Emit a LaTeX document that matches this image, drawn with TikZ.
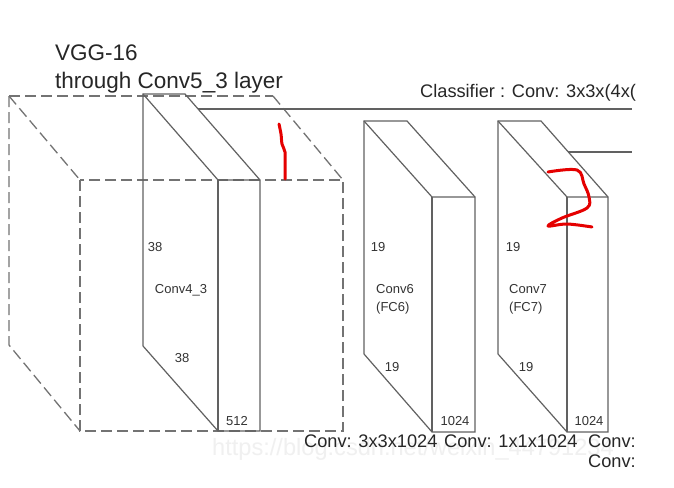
\documentclass[tikz,border=0pt]{standalone}
\usepackage{fontspec}
\setmainfont{Liberation Sans}
\begin{document}
\begin{tikzpicture}[x=1pt,y=-1pt,
  edge/.style={draw=black!62,line width=1.2pt,line join=miter},
  dbox/.style={draw=black!55,line width=1.3pt,dash pattern=on 11pt off 5pt},
  small/.style={text=black!80,inner sep=0pt,font=\fontsize{13}{15}\selectfont},
  big/.style={text=black!85,inner sep=0pt,font=\fontsize{18.2}{21}\selectfont},
  title/.style={text=black!85,inner sep=0pt,font=\fontsize{22.5}{25}\selectfont},
  redmark/.style={draw=red!90!black,line width=3pt,line cap=round,line join=round}]
\useasboundingbox (0,0) rectangle (674,487);
\fill[white] (0,0) rectangle (674,487);
% watermark
\node[anchor=base west,inner sep=0pt,text=black!6,font=\fontsize{23.6}{26}\selectfont] (wm) at (212,455) {https://blog.csdn.net/weixin\_44791234};
% dashed VGG block
\draw[dbox] (9,96) -- (273,96);
\draw[dbox] (9,96) -- (80,180);
\draw[dbox] (273,96) -- (343,180);
\draw[dbox] (80,180) rectangle (343,431);
\draw[dbox] (9,96) -- (9,345) -- (80,431);
% Conv4_3
\coordinate (a1) at (143,94); \coordinate (a2) at (185,94);
\coordinate (a3) at (218,180); \coordinate (a4) at (260,180);
\coordinate (a5) at (218,431); \coordinate (a6) at (260,431);
\coordinate (a7) at (143,346);
\draw[edge] (a7) -- (a1) -- (a2) -- (a4) -- (a6) -- (a5) -- (a7);
\draw[edge] (a1) -- (a3) -- (a4);
\draw[edge] (a3) -- (a5);
% Conv6
\coordinate (b1) at (364,121); \coordinate (b2) at (407,121);
\coordinate (b3) at (432,197); \coordinate (b4) at (475,197);
\coordinate (b5) at (432,432); \coordinate (b6) at (475,432);
\coordinate (b7) at (364,354);
\draw[edge] (b7) -- (b1) -- (b2) -- (b4) -- (b6) -- (b5) -- (b7);
\draw[edge] (b1) -- (b3) -- (b4);
\draw[edge] (b3) -- (b5);
% Conv7
\coordinate (c1) at (498,121); \coordinate (c2) at (541,121);
\coordinate (c3) at (567,197); \coordinate (c4) at (608,197);
\coordinate (c5) at (567,432); \coordinate (c6) at (608,432);
\coordinate (c7) at (498,354);
\draw[edge] (c7) -- (c1) -- (c2) -- (c4) -- (c6) -- (c5) -- (c7);
\draw[edge] (c1) -- (c3) -- (c4);
\draw[edge] (c3) -- (c5);
% connector lines to the right
\coordinate (l1s) at (198,109); \coordinate (l1e) at (632,109);
\coordinate (l2s) at (568,152); \coordinate (l2e) at (632,152);
\draw[edge] (l1s) -- (l1e);
\draw[edge] (l2s) -- (l2e);
% title
\node[title,anchor=base west] (t1) at (55,60) {VGG-16};
\node[title,anchor=base west] (t2) at (55,88) {through Conv5\_3 layer};
% small labels
\node[small] (n1) at (155,247) {38};
\node[small] (n2) at (181,290) {Conv4\_3};
\node[small] (n3) at (182,358) {38};
\node[small] (n4) at (237,421) {512};
\node[small] (n5) at (378,247) {19};
\node[small,anchor=west,align=left,font=\fontsize{13}{18}\selectfont] (n6) at (376,299) {Conv6\\(FC6)};
\node[small] (n7) at (392,367) {19};
\node[small] (n8) at (455,421) {1024};
\node[small] (n9) at (513,247) {19};
\node[small,anchor=west,align=left,font=\fontsize{13}{18}\selectfont] (n10) at (509,299) {Conv7\\(FC7)};
\node[small] (n11) at (526,367) {19};
\node[small] (n12) at (589,421) {1024};
% texts cut at the right edge of the source picture
\node[big,anchor=base west] (cls) at (420,97) {Classifier : Conv: 3x3x(4x(};
\node[big,anchor=base west] (k1) at (304,447.5) {Conv: 3x3x1024};
\node[big,anchor=base west] (k2) at (444,447.5) {Conv: 1x1x1024};
\node[big,anchor=base west] (k3) at (588,447.5) {Conv:};
\node[big,anchor=base west] (k4) at (588,467.5) {Conv:};
% red hand annotations
\draw[redmark] plot[smooth] coordinates {(279,124) (281,134) (282,144) (285,152) (285,165) (285,179)};
\draw[redmark] plot[smooth,tension=0.6] coordinates {(548,172) (577,170) (584,184) (589,197) (587,208) (562,218) (548,226) (567,224) (592,227)};
\end{tikzpicture}
\end{document}
